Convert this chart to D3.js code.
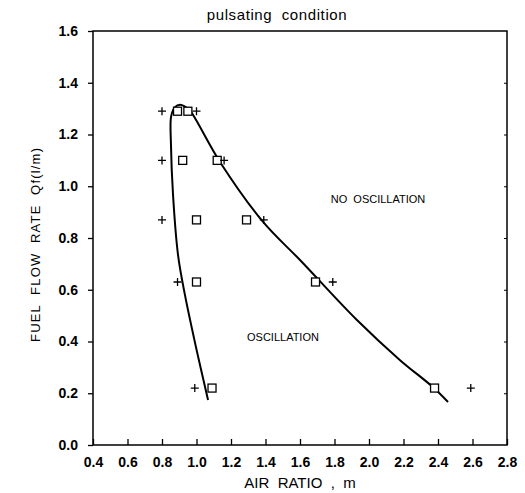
<!DOCTYPE html>
<html>
<head>
<meta charset="utf-8">
<script src="https://cdn.jsdelivr.net/npm/d3@7"></script>
<style>
  body { margin: 0; background: #fff; }
  text { font-family: "Liberation Sans", Arial, sans-serif; fill: #000; white-space: pre; }
</style>
</head>
<body>
<script>
// tick values
var xTicks = [0.4, 0.6, 0.8, 1.0, 1.2, 1.4, 1.6, 1.8, 2.0, 2.2, 2.4, 2.6, 2.8];
var yTicks = [0.0, 0.2, 0.4, 0.6, 0.8, 1.0, 1.2, 1.4, 1.6];

// "+" markers
var plusX = [0.8, 1.0, 0.8, 1.16, 0.8, 1.39, 0.89, 1.79, 0.99, 2.59];
var plusY = [1.29, 1.29, 1.1, 1.1, 0.87, 0.87, 0.63, 0.63, 0.22, 0.22];

// square markers
var sqX = [0.89, 0.95, 0.92, 1.12, 1.0, 1.29, 1.0, 1.69, 1.09, 2.38];
var sqY = [1.29, 1.29, 1.1, 1.1, 0.87, 0.87, 0.63, 0.63, 0.22, 0.22];

// boundary curve
var curveX = [1.067, 1.003, 0.933, 0.893, 0.864, 0.852, 0.853, 0.875, 0.905, 0.94, 0.965, 1.136, 1.386, 1.6, 1.93, 2.18, 2.37, 2.458];
var curveY = [0.174, 0.36, 0.58, 0.734, 0.966, 1.16, 1.27, 1.306, 1.315, 1.305, 1.29, 1.094, 0.862, 0.715, 0.483, 0.328, 0.224, 0.166];

var W = 525, H = 493;
var padL = 93, padR = 507, padT = 31, padB = 445;

var svg = d3.select("body").append("svg")
    .attr("width", W)
    .attr("height", H);

var x = d3.scaleLinear().domain([0.4, 2.8]).range([padL, padR]);
var y = d3.scaleLinear().domain([0, 1.6]).range([padB, padT]);

// frame
svg.append("rect")
    .attr("x", padL).attr("y", padT)
    .attr("width", padR - padL).attr("height", padB - padT)
    .attr("fill", "none").attr("stroke", "#000").attr("stroke-width", 1.5);

// bottom axis, ticks inward
var xAxis = svg.append("g")
    .attr("transform", "translate(0," + padB + ")")
    .call(d3.axisBottom(x).tickValues(xTicks).tickSizeInner(-6).tickSizeOuter(0).tickPadding(12)
      .tickFormat(d3.format(".1f")));
xAxis.select(".domain").remove();
xAxis.selectAll("line").attr("stroke-width", 1.3);
xAxis.selectAll("text").attr("font-size", 14).attr("font-weight", "bold").attr("fill", "#000");

// left axis, ticks outward
var yAxis = svg.append("g")
    .attr("transform", "translate(" + padL + ",0)")
    .call(d3.axisLeft(y).tickValues(yTicks).tickSizeInner(5).tickSizeOuter(0).tickPadding(10)
      .tickFormat(d3.format(".1f")));
yAxis.select(".domain").remove();
yAxis.selectAll("line").attr("stroke-width", 1.3);
yAxis.selectAll("text").attr("font-size", 14).attr("font-weight", "bold").attr("fill", "#000");

// right axis small inward ticks
var rAxis = svg.append("g")
    .attr("transform", "translate(" + padR + ",0)")
    .call(d3.axisRight(y).tickValues(yTicks.slice(1, -1)).tickSizeInner(-3).tickSizeOuter(0).tickFormat(""));
rAxis.select(".domain").remove();

// boundary curve
var pts = curveX.map(function(d, i) { return [d, curveY[i]]; });
svg.append("path")
    .datum(pts)
    .attr("fill", "none")
    .attr("stroke", "#000")
    .attr("stroke-width", 2)
    .attr("d", d3.line()
      .x(function(d) { return x(d[0]); })
      .y(function(d) { return y(d[1]); })
      .curve(d3.curveCatmullRom.alpha(0.5)));

// square markers
svg.selectAll("rect.sq")
    .data(sqX)
    .enter().append("rect")
    .attr("class", "sq")
    .attr("x", function(d) { return x(d) - 4; })
    .attr("y", function(d, i) { return y(sqY[i]) - 4; })
    .attr("width", 8).attr("height", 8)
    .attr("fill", "#fff").attr("stroke", "#000").attr("stroke-width", 1.3);

// plus markers
svg.selectAll("path.plus")
    .data(plusX)
    .enter().append("path")
    .attr("class", "plus")
    .attr("transform", function(d, i) { return "translate(" + x(d) + "," + y(plusY[i]) + ")"; })
    .attr("d", "M-4,0H4M0,-4V4")
    .attr("stroke", "#000").attr("stroke-width", 1.3);

// titles and labels
svg.append("text")
    .attr("x", 277).attr("y", 20)
    .attr("text-anchor", "middle")
    .attr("font-size", 15)
    .attr("letter-spacing", 0.6)
    .text("pulsating  condition");

svg.append("text")
    .attr("x", 300).attr("y", 488)
    .attr("text-anchor", "middle")
    .attr("font-size", 15)
    .text("AIR  RATIO  ,  m");

svg.append("text")
    .attr("transform", "translate(40," + 245 + ") rotate(-90)")
    .attr("text-anchor", "middle")
    .attr("font-size", 13)
    .attr("textLength", 194)
    .attr("lengthAdjust", "spacing")
    .text("FUEL  FLOW  RATE  Qf(l/m)");

svg.append("text")
    .attr("x", 378).attr("y", 203)
    .attr("text-anchor", "middle")
    .attr("font-size", 11)
    .text("NO  OSCILLATION");

svg.append("text")
    .attr("x", 247).attr("y", 341)
    .attr("font-size", 11)
    .text("OSCILLATION");
</script>
</body>
</html>
